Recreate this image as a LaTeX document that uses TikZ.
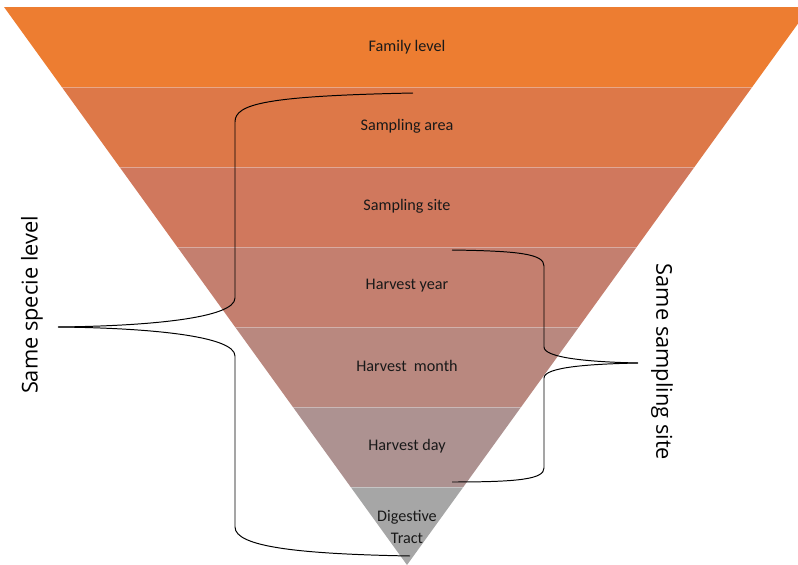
\documentclass[tikz,border=0pt]{standalone}
\usepackage{fontspec}
\setmainfont{Carlito}
\newfontfamily\sidefont{Open Sans}
\definecolor{bandA}{HTML}{ED7D31}
\definecolor{bandB}{HTML}{DD7848}
\definecolor{bandC}{HTML}{D0785D}
\definecolor{bandD}{HTML}{C47F6F}
\definecolor{bandE}{HTML}{B9887F}
\definecolor{bandF}{HTML}{AD9291}
\definecolor{bandG}{HTML}{A6A6A6}
\tikzset{
  level/.style={font=\fontsize{11.5}{15.5}\selectfont, align=center, text=black!90},
  sidelabel/.style={font=\sidefont\fontsize{15.5}{18}\selectfont},
  brace/.style={line width=0.7pt}
}
\begin{document}
\begin{tikzpicture}[x=0.025cm,y=-0.025cm]
\useasboundingbox (0,0) rectangle (798,565);
\begin{scope}
\clip (4,7) -- (810,7) -- (407,565) -- cycle;
\foreach \ya/\col in {7/bandA,87/bandB,167/bandC,247/bandD,327/bandE,407/bandF,487/bandG}
  \fill[\col] (0,\ya) rectangle (810,\ya+80);
\foreach \ya in {87,167,247,327,407,487}
  \draw[white, opacity=0.35, line width=0.7pt] (0,\ya) -- (810,\ya);
\end{scope}
\node[level] (family) at (407,47) {Family level};
\node[level] (area) at (407,126) {Sampling area};
\node[level] (site) at (407,206) {Sampling site};
\node[level] (year) at (407,286) {Harvest year};
\node[level] (month) at (407,366) {Harvest\ \ month};
\node[level] (day) at (407,446) {Harvest day};
\node[level] (tract) at (407,527) {Digestive\\Tract};
\node[sidelabel, rotate=90] (specie) at (32,305) {Same specie level};
\node[sidelabel, rotate=-90] (samesite) at (662,362) {Same sampling site};
\coordinate (ltip) at (58,327);
\coordinate (ltop) at (413,93);
\coordinate (lbot) at (410,556);
\coordinate (rtip) at (638,363);
\coordinate (rtop) at (452,250);
\coordinate (rbot) at (452,482);
\draw[brace] (ltop) .. controls (265,96) and (235,104) .. (235,122) -- (235,298)
  .. controls (235,318) and (150,326) .. (ltip);
\draw[brace] (ltip) .. controls (150,328) and (235,336) .. (235,356) -- (235,527)
  .. controls (235,547) and (300,554) .. (lbot);
\draw[brace] (rtop) .. controls (520,251) and (544,254) .. (544,266) -- (544,347)
  .. controls (544,358) and (590,362) .. (rtip);
\draw[brace] (rtip) .. controls (590,364) and (544,367) .. (544,378) -- (544,468)
  .. controls (544,479) and (520,482) .. (rbot);
\end{tikzpicture}
\end{document}
